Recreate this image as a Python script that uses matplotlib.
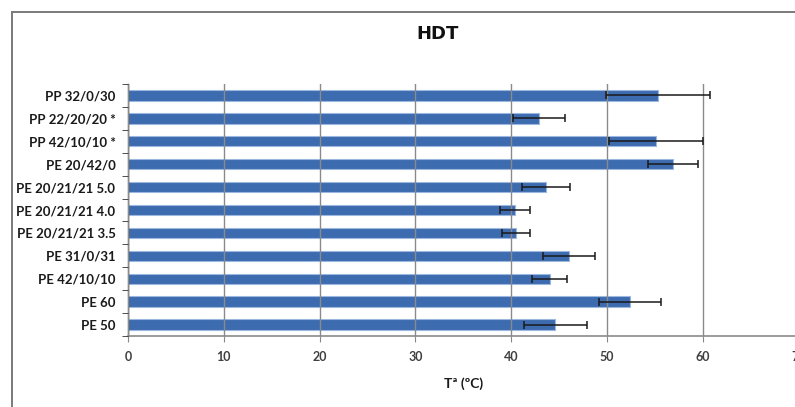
import matplotlib
matplotlib.use("Agg")
import matplotlib.pyplot as plt
from matplotlib.lines import Line2D
import numpy as np

categories = ["PE 50", "PE 60", "PE 42/10/10", "PE 31/0/31", "PE 20/21/21 3.5",
              "PE 20/21/21 4.0", "PE 20/21/21 5.0", "PE 20/42/0", "PP 42/10/10 *",
              "PP 22/20/20 *", "PP 32/0/30"]
values = [44.6, 52.4, 44.0, 46.0, 40.5, 40.4, 43.6, 56.9, 55.1, 42.9, 55.3]
errors = [3.3, 3.2, 1.8, 2.7, 1.5, 1.6, 2.5, 2.6, 4.9, 2.7, 5.4]
xticks = [0, 10, 20, 30, 40, 50, 60, 70]

W, H = 795, 407
fig = plt.figure(figsize=(W / 100, H / 100), dpi=100)
fig.patch.set_facecolor("white")

x0, x1 = 128, 798.6
y0, y1 = 84, 336
ax = fig.add_axes([x0 / W, (H - y1) / H, (x1 - x0) / W, (y1 - y0) / H])

font = "Lato"
pos = np.arange(len(categories))
ax.barh(pos, values, height=0.45, color="#3D6BB0", edgecolor="#9DB8DE",
        linewidth=0.8, zorder=2)
ax.errorbar(values, pos, xerr=errors, fmt="none", ecolor="#1a1a1a",
            elinewidth=1.1, capsize=3, capthick=1.1, zorder=4)

ax.set_xlim(0, 70)
ax.set_ylim(-0.5, len(categories) - 0.5)
ax.set_xticks(xticks)
ax.set_xticklabels([str(t) for t in xticks], fontfamily=font, fontweight="bold",
                   fontsize=9, color="#404040")
ax.set_yticks(pos)
ax.set_yticklabels(categories, fontfamily=font, fontweight="bold", fontsize=9.5,
                   color="#1a1a1a")
ax.set_yticks(np.arange(-0.5, len(categories), 1.0), minor=True)
ax.tick_params(axis="y", which="major", length=0, pad=9)
ax.tick_params(axis="y", which="minor", length=4, direction="out", color="#333333")
ax.tick_params(axis="x", which="major", length=4, direction="out", color="#888888",
               pad=7)

ax.grid(axis="x", color="#8a8a8a", linewidth=1.0, zorder=3)
ax.set_axisbelow(False)
for s in ["top", "right"]:
    ax.spines[s].set_visible(False)
ax.spines["bottom"].set_color("#8a8a8a")
ax.spines["bottom"].set_linewidth(1.2)
ax.spines["left"].set_color("#333333")
ax.spines["left"].set_linewidth(1.0)

ax.set_xlabel("Tª (ºC)", fontfamily=font, fontweight="bold", fontsize=10,
              color="#1a1a1a", labelpad=10)

fig.text(438 / W, 1 - 34 / H, "HDT", ha="center", va="center",
         fontfamily="Liberation Sans Narrow", fontweight="bold", fontsize=13,
         color="#111111")

# chart border
fig.add_artist(Line2D([11.5 / W, 11.5 / W], [0, 1 - 12 / H],
                      transform=fig.transFigure, color="#7a7a7a", linewidth=1.4))
fig.add_artist(Line2D([11.5 / W, 1], [1 - 12 / H, 1 - 12 / H],
                      transform=fig.transFigure, color="#7a7a7a", linewidth=1.4))

fig.savefig("out.png", dpi=100)
